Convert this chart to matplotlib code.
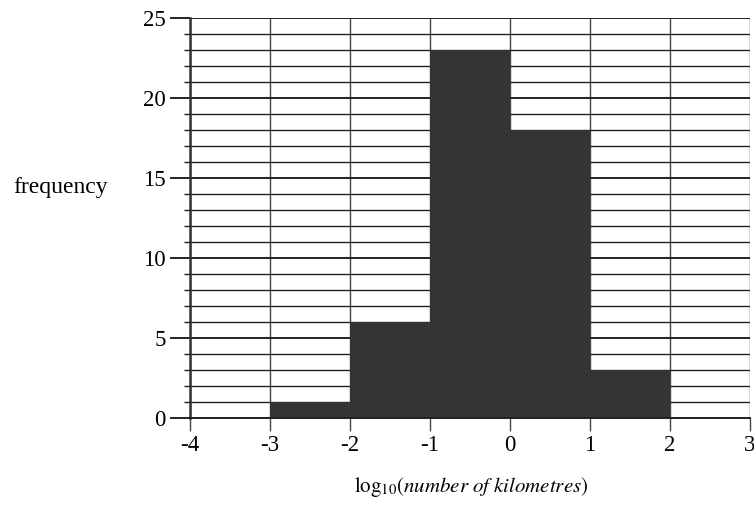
import numpy as np
import matplotlib
matplotlib.use("Agg")
import matplotlib.pyplot as plt

# гистограмма: границы классов и частоты
bin_edges = [-3, -2, -1, 0, 1, 2]
frequencies = [1, 6, 23, 18, 3]
x_ticks = [-4, -3, -2, -1, 0, 1, 2, 3]
y_ticks = [0, 5, 10, 15, 20, 25]

plt.rcParams['font.family'] = ['Liberation Serif', 'DejaVu Serif']
plt.rcParams['mathtext.fontset'] = 'stix'

fig = plt.figure(figsize=(7.54, 5.20), dpi=100)
ax = fig.add_axes([190 / 754, 1 - 418 / 520, 560 / 754, 400 / 520])

ax.set_xlim(-4, 3)
ax.set_ylim(0, 25)

# сетка: вертикальные линии на целых, горизонтальные через 1
for x in x_ticks:
    ax.axvline(x, color='#444444', lw=1.0, zorder=1)
for y in range(0, 26):
    ax.axhline(y, color='#222222', lw=1.0 if y % 5 else 1.4, zorder=1)

ax.stairs(frequencies, bin_edges, fill=True, color='#353334', zorder=2)

for s in ['top', 'right']:
    ax.spines[s].set_visible(False)
ax.spines['left'].set_linewidth(1.8)
ax.spines['left'].set_color('#333333')
ax.spines['bottom'].set_linewidth(1.4)
ax.spines['bottom'].set_color('#222222')

ax.set_xticks(x_ticks)
ax.set_xticklabels([str(v) for v in x_ticks])
ax.set_yticks(y_ticks)
ax.set_yticks(range(0, 26), minor=True)
ax.tick_params(axis='y', which='major', length=14.5, width=1.4, color='#222222', pad=3, labelsize=16.5)
ax.tick_params(axis='y', which='minor', length=4, width=1.0, color='#222222')
ax.tick_params(axis='x', which='major', length=9, width=1.0, color='#444444', pad=3, labelsize=16.5)

fig.text(61 / 754, 1 - 187 / 520, 'frequency', ha='center', va='center', fontsize=17)
# подпись оси x (в оригинале "3" тоже обрезана у правого края)
fig.text(471 / 754, 1 - 487 / 520,
         r'$\mathrm{log}_{10}(\mathit{number\ of\ kilometres})$',
         ha='center', va='center', fontsize=15)

fig.savefig('out.png', dpi=100)
